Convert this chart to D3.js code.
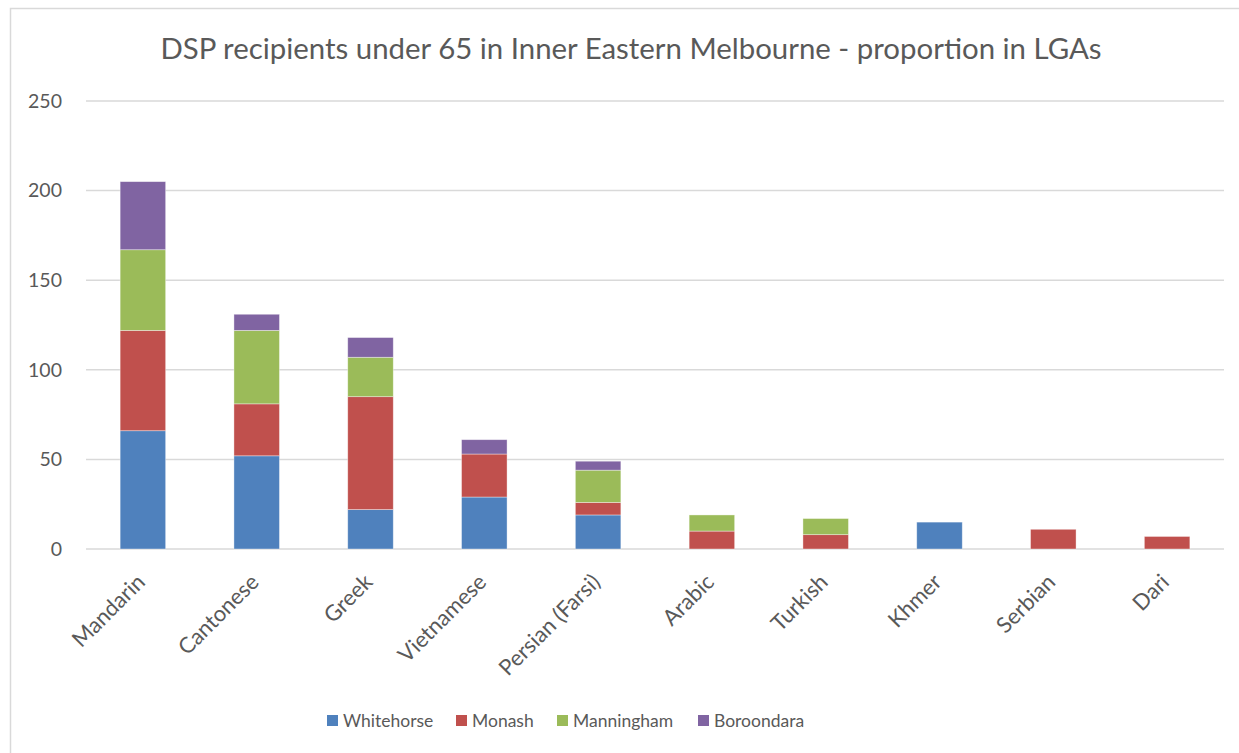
<!DOCTYPE html>
<html>
<head>
<meta charset="utf-8">
<script src="https://cdn.jsdelivr.net/npm/d3@7"></script>
<style>
  body { margin: 0; background: #fff; }
  text { font-family: Lato, "Open Sans", sans-serif; fill: #595959; }
</style>
</head>
<body>
<div id="chart"></div>
<script>
// languages along the x axis
const languages = ["Mandarin", "Cantonese", "Greek", "Vietnamese", "Persian (Farsi)",
  "Arabic", "Turkish", "Khmer", "Serbian", "Dari"];

// one array per LGA, same order as languages
const whitehorse = [66, 52, 22, 29, 19, 0, 0, 15, 0, 0];
const monash     = [56, 29, 63, 24, 7, 10, 8, 0, 11, 7];
const manningham = [45, 41, 22, 0, 18, 9, 9, 0, 0, 0];
const boroondara = [38, 9, 11, 8, 5, 0, 0, 0, 0, 0];

const seriesNames = ["Whitehorse", "Monash", "Manningham", "Boroondara"];
const seriesColors = ["#4f81bd", "#c0504d", "#9bbb59", "#8064a2"];
const yTicks = [0, 50, 100, 150, 200, 250];

const width = 1239, height = 753;
const margin = {left: 86, right: 15, top: 101, bottom: 204};

const svg = d3.select("#chart").append("svg")
  .attr("width", width)
  .attr("height", height);

// chart area border
svg.append("rect")
  .attr("x", 10.5).attr("y", 8.5)
  .attr("width", width + 20).attr("height", height + 20)
  .attr("fill", "none")
  .attr("stroke", "#d9d9d9")
  .attr("stroke-width", 1.5);

svg.append("text")
  .attr("x", 631).attr("y", 59)
  .attr("text-anchor", "middle")
  .style("font-size", "29.4px")
  .text("DSP recipients under 65 in Inner Eastern Melbourne - proportion in LGAs");

// build rows for the stack
const rows = languages.map((lang, i) => ({
  language: lang,
  Whitehorse: whitehorse[i],
  Monash: monash[i],
  Manningham: manningham[i],
  Boroondara: boroondara[i]
}));
const stacked = d3.stack().keys(seriesNames)(rows);

const x = d3.scaleBand()
  .domain(languages)
  .range([margin.left, width - margin.right])
  .paddingInner(0.6)
  .paddingOuter(0.3);

const y = d3.scaleLinear()
  .domain([0, 250])
  .range([height - margin.bottom, margin.top]);

// gridlines
svg.append("g")
  .selectAll("line")
  .data(yTicks)
  .enter().append("line")
  .attr("x1", margin.left).attr("x2", width - margin.right)
  .attr("y1", d => y(d)).attr("y2", d => y(d))
  .attr("stroke", "#d9d9d9")
  .attr("stroke-width", 1.5);

// y labels
svg.append("g")
  .selectAll("text")
  .data(yTicks)
  .enter().append("text")
  .attr("x", 62)
  .attr("y", d => y(d))
  .attr("dy", "0.35em")
  .attr("text-anchor", "end")
  .style("font-size", "19.5px")
  .text(d => d);

// bars
svg.append("g")
  .selectAll("g")
  .data(stacked)
  .enter().append("g")
  .attr("fill", (d, i) => seriesColors[i])
  .selectAll("rect")
  .data(d => d.filter(s => s[1] - s[0] > 0))
  .enter().append("rect")
  .attr("x", d => x(d.data.language))
  .attr("y", d => y(d[1]))
  .attr("width", x.bandwidth())
  .attr("height", d => y(d[0]) - y(d[1]))
  .attr("stroke", "#ffffff")
  .attr("stroke-opacity", 0.5)
  .attr("stroke-width", 0.75);

// x labels, rotated
svg.append("g")
  .selectAll("text")
  .data(languages)
  .enter().append("text")
  .attr("transform", d => `translate(${x(d) + x.bandwidth() / 2 - 2},${height - margin.bottom + 29}) rotate(-45)`)
  .attr("text-anchor", "end")
  .attr("dy", "0.35em")
  .style("font-size", "22px")
  .text(d => d);

// legend
const legendX = [327, 456, 557, 698];
const legend = svg.append("g")
  .selectAll("g")
  .data(seriesNames)
  .enter().append("g")
  .attr("transform", (d, i) => `translate(${legendX[i]},721)`);

legend.append("rect")
  .attr("x", 0).attr("y", -6)
  .attr("width", 11).attr("height", 11)
  .attr("fill", (d, i) => seriesColors[i]);

legend.append("text")
  .attr("x", 16)
  .attr("dy", "0.35em")
  .style("font-size", "17.5px")
  .text(d => d);
</script>
</body>
</html>
